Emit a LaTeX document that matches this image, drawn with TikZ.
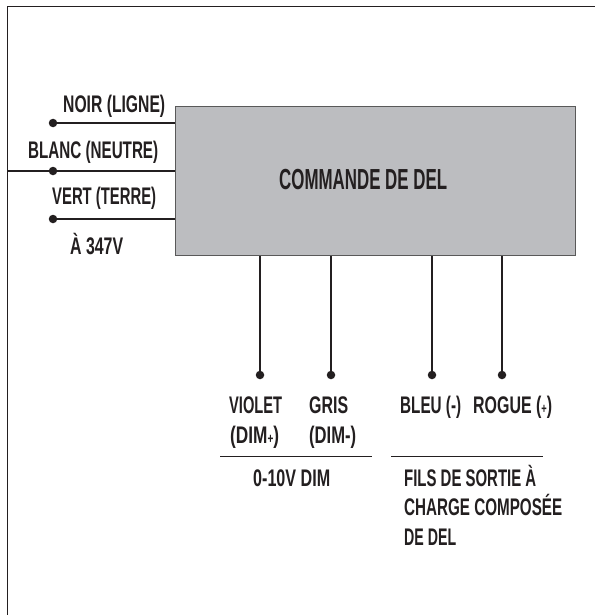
\documentclass[tikz,border=0pt]{standalone}
\usepackage{fontspec}
\setmainfont{Liberation Sans}
\definecolor{boxgray}{HTML}{BCBDC0}
\definecolor{ink}{HTML}{231F20}
\tikzset{
  wire/.style={draw=ink,line width=1.3pt},
  lbl/.style={inner sep=0pt,anchor=base west,text=ink,font=\fontsize{24}{26}\selectfont\bfseries},
  dot/.style={circle,fill=ink,inner sep=0pt,minimum size=8.5pt},
}
\newcommand{\fit}[2]{\setbox0=\hbox{#2}\pgfmathsetmacro{\fitx}{#1/\the\wd0*1pt}\scalebox{\fitx}[1]{\box0}}
\newcommand{\smallsym}[1]{{\fontsize{14}{16}\selectfont #1}}
\begin{document}
\begin{tikzpicture}[x=1pt,y=-1pt]
\useasboundingbox (0,0) rectangle (595,615);
\fill[white] (0,0) rectangle (595,615);
\draw[ink,line width=1pt] (7,615) -- (7,6.5) -- (595,6.5);
\node[draw=black!65,fill=boxgray,line width=.8pt,minimum width=400pt,minimum height=148.5pt,inner sep=0pt,anchor=north west] (box) at (174.5,106.5) {};
\node[lbl,font=\fontsize{29}{30}\selectfont\bfseries] (t) at (279,189) {\fit{168}{COMMANDE DE DEL}};
\node[dot] (d1) at (53,123) {};
\node[dot] (d2) at (53,171) {};
\node[dot] (d3) at (53,219) {};
\coordinate (l2) at (8,171);
\draw[wire] (d1) -- (d1 -| box.west);
\draw[wire] (l2) -- (l2 -| box.west);
\draw[wire] (d3) -- (d3 -| box.west);
\node[lbl] (n1) at (63,113) {\fit{102}{NOIR (LIGNE)}};
\node[lbl] (n2) at (28,158) {\fit{130}{BLANC (NEUTRE)}};
\node[lbl] (n3) at (52,204) {\fit{104}{VERT (TERRE)}};
\node[lbl] (n4) at (70,254) {\fit{53}{À 347V}};
\node[dot] (b1) at (260,375) {};
\node[dot] (b2) at (331,375) {};
\node[dot] (b3) at (432,375) {};
\node[dot] (b4) at (502,375) {};
\foreach \n in {b1,b2,b3,b4} \draw[wire] (\n) -- (\n |- box.south);
\node[lbl] (v1) at (229,413) {\fit{53}{VIOLET}};
\node[lbl] (v2) at (230,443) {\fit{49}{(DIM\smallsym{+})}};
\node[lbl] (g1) at (309,413) {\fit{39}{GRIS}};
\node[lbl] (g2) at (309,443) {\fit{47}{(DIM-)}};
\node[lbl] (e1) at (400,413) {\fit{61}{BLEU (-)}};
\node[lbl] (r1) at (473,413) {\fit{79}{ROGUE (\smallsym{+})}};
\coordinate (r1a) at (220,456); \coordinate (r1b) at (372,456);
\coordinate (r2a) at (391,456); \coordinate (r2b) at (543,456);
\draw[wire,line width=1pt] (r1a) -- (r1b);
\draw[wire,line width=1pt] (r2a) -- (r2b);
\node[lbl] (z) at (253,486) {\fit{77}{0-10V DIM}};
\node[lbl] (f1) at (404,486) {\fit{132}{FILS DE SORTIE À}};
\node[lbl] (f2) at (404,515.5) {\fit{158}{CHARGE COMPOSÉE}};
\node[lbl] (f3) at (404,545) {\fit{52}{DE DEL}};
\end{tikzpicture}
\end{document}
